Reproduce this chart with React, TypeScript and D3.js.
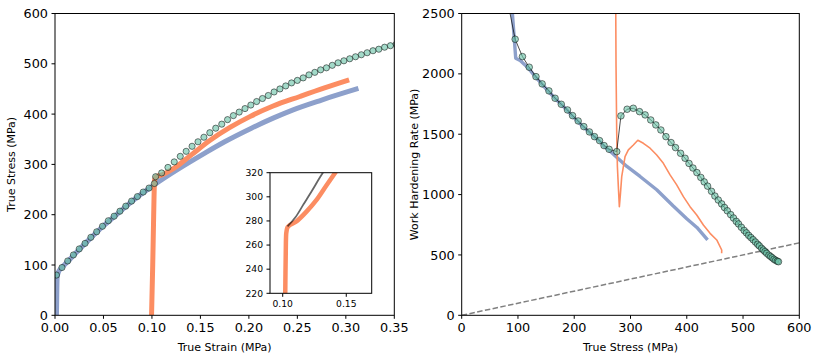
import React from "react";
import * as d3 from "d3";

// model (markers): strain, stress, work hardening rate
const modelStrain = [
  0.0015, 0.0072, 0.0131, 0.019, 0.025, 0.031, 0.037, 0.043, 0.049, 0.055,
  0.061, 0.067, 0.073, 0.079, 0.085, 0.091, 0.097, 0.1025, 0.1038, 0.11,
  0.1165, 0.123, 0.1292, 0.1353, 0.1414, 0.1475, 0.1536, 0.1597, 0.1658, 0.172,
  0.178, 0.184, 0.19, 0.196, 0.202, 0.208, 0.214, 0.22, 0.226, 0.232,
  0.238, 0.244, 0.25, 0.256, 0.262, 0.268, 0.274, 0.28, 0.286, 0.292,
  0.298, 0.304, 0.31, 0.316, 0.322, 0.328, 0.334, 0.34, 0.346, 0.352,
  0.358, 0.364, 0.37, 0.376, 0.382, 0.388, 0.394, 0.4,
];
const modelStress = [
  80, 95, 108, 120, 132, 143, 155, 166, 177, 188,
  197, 207, 217, 227, 236, 245, 253, 262, 275.5, 283,
  294, 305, 316, 326, 336, 345, 354, 363, 372, 380,
  389, 397, 404, 411, 418, 425, 431, 437, 444, 450,
  456, 462, 467, 472, 478, 483, 488, 492, 497, 502,
  506, 510, 514, 518, 522, 526, 529, 533, 536, 539,
  542, 546, 549, 552, 555, 558, 561, 563,
];
const modelRate = [
  2640, 2287, 2143, 2055, 1977, 1917, 1859, 1798, 1748, 1701,
  1654, 1610, 1563, 1519, 1480, 1447, 1406, 1375, 1356, 1652,
  1707, 1715, 1687, 1660, 1618, 1577, 1535, 1480, 1431, 1389,
  1342, 1301, 1258, 1220, 1182, 1142, 1105, 1070, 1027, 988,
  955, 923, 893, 866, 834, 806, 778, 757, 729, 703,
  683, 662, 644, 626, 607, 588, 575, 555, 541, 528,
  514, 498, 487, 476, 464, 455, 448, 444,
];

// monotonic test (blue)
const monoStrain = [0.0015, 0.0018, 0.0022, 0.004, 0.0072, 0.0131, 0.025, 0.037, 0.049, 0.061, 0.073, 0.085, 0.097, 0.1066, 0.12, 0.135, 0.155, 0.175, 0.2026, 0.225, 0.245, 0.275, 0.313];
const monoStress = [0, 40, 75, 88, 95, 107, 131, 154, 176, 196, 216, 235, 252, 265, 282, 300, 323, 345, 372, 392, 408, 428, 451];
const monoRateStress = [88.5, 96, 104, 113, 121, 132, 143, 155, 167, 178, 188, 197, 207, 217, 228, 237, 246, 253, 262, 275.5, 293, 317, 346.6, 376, 400, 418, 437];
const monoRate = [2600, 2130, 2110, 2072, 2033, 1970, 1912, 1852, 1792, 1742, 1696, 1650, 1604, 1557, 1512, 1474, 1440, 1400, 1368, 1310, 1235, 1150, 1040, 905, 800, 728, 625];

// reloaded test (orange)
const reloadStrain = [0.0996, 0.1008, 0.1016, 0.1021, 0.1025, 0.1028, 0.104, 0.1107, 0.1187, 0.1266, 0.1346, 0.1413, 0.16, 0.18, 0.201, 0.225, 0.2526, 0.278, 0.3034];
const reloadStress = [0, 100, 180, 230, 262, 270, 275, 279.5, 287.7, 297.4, 309.8, 320, 348, 373, 395, 416, 435, 452, 468];
const reloadRateStress = [273.7, 274.3, 275.5, 276.7, 278.4, 280.2, 282, 284.4, 290.3, 296.2, 305.1, 313, 322.9, 334.8, 346.6, 358.4, 370.3, 382.1, 394, 405.8, 417.7, 429.5, 441.4, 453.3, 462.1, 462];
const reloadRate = [2600, 2060, 1508, 1232, 1066, 900, 1000, 1149, 1315, 1370, 1411, 1450, 1425, 1384, 1328, 1259, 1163, 1080, 983, 900, 831, 748, 679, 624, 541, 514];

// reference line theta = sigma
const refStress = [0, 600];
const refRate = [0, 600];

const leftXTicks = [0, 0.05, 0.1, 0.15, 0.2, 0.25, 0.3, 0.35];
const leftYTicks = [0, 100, 200, 300, 400, 500, 600];
const rightXTicks = [0, 100, 200, 300, 400, 500, 600];
const rightYTicks = [0, 500, 1000, 1500, 2000, 2500];
const insetXTicks = [0.1, 0.15];
const insetYTicks = [220, 240, 260, 280, 300, 320];

const BLUE = "#8da0cb";
const ORANGE = "#fc8d62";
const GREEN = "#66c2a5";
const FONT = "DejaVu Sans, sans-serif";

const zip = (a: number[], b: number[]) => a.map((v, i) => [v, b[i]] as [number, number]);

const Axes = ({ x, y, xticks, yticks, xfmt, yfmt, fs, xlabel, ylabel, ylabelX }: any) => {
  const [x0, x1] = x.range();
  const [y1, y0] = y.range();
  return (
    <g fontFamily={FONT} fill="#000">
      <rect x={x0} y={y0} width={x1 - x0} height={y1 - y0} fill="none" stroke="#000" strokeWidth={1} />
      {xticks.map((t: number) => (
        <g key={"x" + t}>
          <line x1={x(t)} x2={x(t)} y1={y1} y2={y1 + 3.5} stroke="#000" />
          <text x={x(t)} y={y1 + 7 + fs * 0.76} fontSize={fs} textAnchor="middle">{xfmt(t)}</text>
        </g>
      ))}
      {yticks.map((t: number) => (
        <g key={"y" + t}>
          <line x1={x0 - 3.5} x2={x0} y1={y(t)} y2={y(t)} stroke="#000" />
          <text x={x0 - 7} y={y(t) + fs * 0.36} fontSize={fs} textAnchor="end">{yfmt(t)}</text>
        </g>
      ))}
      {xlabel && (
        <text x={(x0 + x1) / 2} y={351} fontSize={11} textAnchor="middle">{xlabel}</text>
      )}
      {ylabel && (
        <text transform={`translate(${ylabelX},${(y0 + y1) / 2}) rotate(-90)`} fontSize={11} textAnchor="middle">{ylabel}</text>
      )}
    </g>
  );
};

export default function App() {
  const xL = d3.scaleLinear().domain([0, 0.35]).range([55, 394.3]);
  const yL = d3.scaleLinear().domain([0, 600]).range([315.3, 13.5]);
  const xR = d3.scaleLinear().domain([0, 600]).range([461.7, 799.3]);
  const yR = d3.scaleLinear().domain([0, 2500]).range([315.3, 13.5]);
  const xI = d3.scaleLinear().domain([0.09, 0.17]).range([270, 371.7]);
  const yI = d3.scaleLinear().domain([220, 320]).range([293.3, 172.7]);

  const lineL = d3.line<[number, number]>().x((d) => xL(d[0])).y((d) => yL(d[1])).curve(d3.curveMonotoneX);
  const lineR = d3.line<[number, number]>().x((d) => xR(d[0])).y((d) => yR(d[1]));
  const lineI = d3.line<[number, number]>().x((d) => xI(d[0])).y((d) => yI(d[1])).curve(d3.curveMonotoneX);

  const modelL = zip(modelStrain, modelStress);
  const modelR = zip(modelStress, modelRate);
  const modelI = modelL.slice(18);

  const f2 = d3.format(".2f");
  const f0 = d3.format("d");

  return (
    <svg width={820} height={359} style={{ position: "absolute", left: 0, top: 0, background: "#fff" }}>
      <defs>
        <clipPath id="clipL"><rect x={55} y={13.5} width={339.3} height={301.8} /></clipPath>
        <clipPath id="clipR"><rect x={461.7} y={13.5} width={337.6} height={301.8} /></clipPath>
        <clipPath id="clipI"><rect x={270} y={172.7} width={101.7} height={120.6} /></clipPath>
      </defs>

      {/* left: stress-strain */}
      <g clipPath="url(#clipL)">
        <path d={lineL(zip(monoStrain, monoStress)) || ""} fill="none" stroke={BLUE} strokeWidth={5} />
        <path d={lineL(zip(reloadStrain, reloadStress)) || ""} fill="none" stroke={ORANGE} strokeWidth={5} />
        {modelL.map((d, i) => (
          <circle key={i} cx={xL(d[0])} cy={yL(d[1])} r={3.1} fill={GREEN} fillOpacity={0.6} stroke="#000" strokeOpacity={0.5} strokeWidth={1} />
        ))}
      </g>
      <Axes x={xL} y={yL} xticks={leftXTicks} yticks={leftYTicks} xfmt={f2} yfmt={f0} fs={12.8}
        xlabel="True Strain (MPa)" ylabel="True Stress (MPa)" ylabelX={15} />

      {/* inset */}
      <rect x={270} y={172.7} width={101.7} height={120.6} fill="#fff" />
      <g clipPath="url(#clipI)">
        <path d={lineI(zip(reloadStrain, reloadStress)) || ""} fill="none" stroke={ORANGE} strokeWidth={4.5} strokeLinejoin="round" />
        <path d={lineI(modelI) || ""} fill="none" stroke="#000" strokeOpacity={0.6} strokeWidth={1.8} />
      </g>
      <Axes x={xI} y={yI} xticks={insetXTicks} yticks={insetYTicks} xfmt={f2} yfmt={f0} fs={9.2} />

      {/* right: work hardening */}
      <g clipPath="url(#clipR)">
        <path d={lineR(zip(monoRateStress, monoRate)) || ""} fill="none" stroke={BLUE} strokeWidth={3.4} strokeLinejoin="round" />
        <path d={lineR(zip(reloadRateStress, reloadRate)) || ""} fill="none" stroke={ORANGE} strokeWidth={1.6} strokeLinejoin="round" />
        <path d={lineR(zip(refStress, refRate)) || ""} fill="none" stroke="#808080" strokeWidth={1.5} strokeDasharray="5.5,2.4" />
        <path d={lineR(modelR) || ""} fill="none" stroke="#000" strokeOpacity={0.7} strokeWidth={1} />
        {modelR.map((d, i) => (
          <circle key={i} cx={xR(d[0])} cy={yR(d[1])} r={3.3} fill={GREEN} fillOpacity={0.6} stroke="#000" strokeOpacity={0.5} strokeWidth={1} />
        ))}
      </g>
      <Axes x={xR} y={yR} xticks={rightXTicks} yticks={rightYTicks} xfmt={f0} yfmt={f0} fs={12.8}
        xlabel="True Stress (MPa)" ylabel="Work Hardening Rate (MPa)" ylabelX={418} />
    </svg>
  );
}
